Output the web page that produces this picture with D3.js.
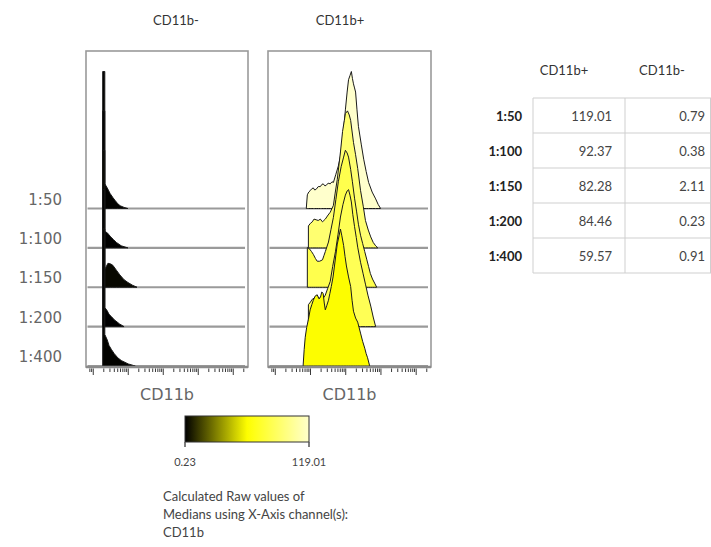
<!DOCTYPE html>
<html>
<head>
<meta charset="utf-8">
<script src="https://cdn.jsdelivr.net/npm/d3@7"></script>
<style>
  body { margin: 0; background: #fff; }
  text { font-family: "Lato", "Open Sans", sans-serif; }
</style>
</head>
<body>
<svg id="chart" width="711" height="547"></svg>
<script>
// Dilution series and the CD11b median of each gated population
const samples = ["1:50", "1:100", "1:150", "1:200", "1:400"];
const panelTitles = ["CD11b-", "CD11b+"];
const mediansNeg = [0.79, 0.38, 2.11, 0.23, 0.91];
const mediansPos = [119.01, 92.37, 82.28, 84.46, 59.57];
const tableHeaders = ["CD11b+", "CD11b-"];
const colorTickValues = [0.23, 119.01];
const axisLabel = "CD11b";
const captionLines = ["Calculated Raw values of", "Medians using X-Axis channel(s):", "CD11b"];

// Histograms: [log10 CD11b intensity, % of mode], one per sample
const histNeg = [
  [[0.27,0],[0.27,100],[0.33,100],[0.33,18],[0.40,15],[0.48,11],[0.56,8],[0.62,6],[0.70,3.5],[0.77,2],[0.88,0.8],[0.99,0]],
  [[0.27,0],[0.27,100],[0.33,100],[0.33,12],[0.40,11],[0.50,8],[0.58,6],[0.66,4],[0.80,1.5],[0.99,0]],
  [[0.27,0],[0.27,100],[0.33,100],[0.33,13],[0.42,17.5],[0.50,17],[0.56,16],[0.66,12.5],[0.76,9],[0.88,5.5],[0.99,3.5],[1.12,1.5],[1.25,0]],
  [[0.27,0],[0.27,100],[0.33,100],[0.33,14],[0.40,11.5],[0.45,9],[0.53,7],[0.60,5],[0.75,2],[0.88,0]],
  [[0.27,0],[0.27,100],[0.33,100],[0.33,23],[0.40,19],[0.45,15],[0.52,12],[0.60,9],[0.70,6],[0.80,4],[1.00,1.5],[1.20,0]]
];
const histPos = [
  [[0.88,0],[0.91,10],[0.95,12],[0.99,13],[1.04,14.5],[1.08,15],[1.12,13.5],[1.16,14],[1.22,16],[1.28,16],[1.32,17.5],[1.36,18],[1.41,16.5],[1.45,17],[1.50,18.5],[1.56,18],[1.61,19.5],[1.65,19],[1.72,25],[1.79,31],[1.85,38],[1.91,48],[1.95,60],[1.99,72],[2.04,85],[2.08,94],[2.12,97],[2.16,100],[2.19,95],[2.22,91],[2.25,88],[2.28,85],[2.32,72],[2.36,60],[2.44,47],[2.51,36],[2.58,27],[2.65,19],[2.75,12],[2.85,7],[2.92,3],[2.99,0]],
  [[0.94,0],[0.94,16],[1.00,18],[1.05,19],[1.10,21],[1.16,20.5],[1.22,20],[1.28,21],[1.34,19],[1.38,20],[1.42,21],[1.50,24],[1.56,26],[1.65,31],[1.70,40],[1.76,50],[1.85,70],[1.91,85],[1.96,93],[1.99,98],[2.05,100],[2.10,97],[2.14,93],[2.22,77],[2.28,68],[2.34,58],[2.42,42],[2.50,30],[2.56,20],[2.64,13],[2.71,8],[2.78,4],[2.85,1.5],[2.91,0]],
  [[0.91,0],[0.91,29],[0.97,28],[1.03,26],[1.08,24],[1.14,21],[1.19,19],[1.26,19],[1.34,20],[1.38,23],[1.42,26],[1.51,33],[1.58,42],[1.65,51],[1.72,64],[1.79,77],[1.87,88],[1.94,95],[1.99,100],[2.04,98],[2.08,95],[2.14,86],[2.19,77],[2.25,65],[2.31,55],[2.36,46],[2.42,38],[2.48,32],[2.54,26],[2.60,20],[2.65,15],[2.70,10],[2.76,6],[2.82,3],[2.88,0]],
  [[0.94,0],[0.94,16],[1.00,18],[1.05,20],[1.12,21],[1.19,22],[1.25,21],[1.31,20],[1.37,21],[1.42,23],[1.49,28],[1.56,33],[1.63,44],[1.71,55],[1.78,67],[1.85,80],[1.92,89],[1.99,96],[2.04,99],[2.08,100],[2.12,96],[2.16,91],[2.20,82],[2.25,73],[2.30,65],[2.34,58],[2.42,47],[2.49,39],[2.56,31],[2.63,23],[2.71,15],[2.78,7],[2.85,0]],
  [[0.79,0],[0.82,12],[0.85,21],[0.89,28],[0.94,34],[0.99,41],[1.04,45],[1.08,48],[1.13,51],[1.19,52],[1.24,49],[1.28,50],[1.32,54],[1.36,53],[1.39,46],[1.42,41],[1.46,44],[1.51,48],[1.55,53],[1.59,58],[1.64,65],[1.68,73],[1.72,81],[1.76,89],[1.81,95],[1.85,100],[1.89,95],[1.94,88],[1.98,80],[2.02,73],[2.08,65],[2.14,58],[2.18,48],[2.22,40],[2.28,35],[2.34,32],[2.38,28],[2.42,24],[2.48,18],[2.54,13],[2.58,9],[2.62,6],[2.68,0]]
];

const svg = d3.select("#chart");

// Median colour scale shared by the histograms and the legend bar
const color = d3.scaleLinear()
  .domain([0.23, 60, 119.01])
  .range(["#000000", "#ffff00", "#ffffcc"])
  .clamp(true);

const rowY = d3.scalePoint().domain(samples).range([208.5, 366]);
const heightScale = d3.scaleLinear().domain([0, 100]).range([0, 137]);
const panelTop = 51, panelBottom = 367;

function drawPanel(x0, width, hists, medians, title, titleX) {
  const g = svg.append("g");
  const x = d3.scaleLog()
    .domain([Math.pow(10, -0.15), Math.pow(10, 4.35)])
    .range([x0 + 2, x0 + width - 2.5]);

  g.append("rect")
    .attr("x", x0).attr("y", panelTop)
    .attr("width", width).attr("height", panelBottom - panelTop)
    .attr("fill", "#fff").attr("stroke", "#9a9a9a").attr("stroke-width", 1.6);

  samples.forEach((s, i) => {
    const base = rowY(s);
    g.append("line")
      .attr("x1", x0 + 1.5).attr("x2", x0 + width - 3)
      .attr("y1", base).attr("y2", base)
      .attr("stroke", "#9a9a9a").attr("stroke-width", 2.2);
    const area = d3.area()
      .x(d => x(Math.pow(10, d[0])))
      .y0(base)
      .y1(d => base - heightScale(d[1]));
    g.append("path")
      .datum(hists[i])
      .attr("d", area)
      .attr("fill", color(medians[i]))
      .attr("stroke", "#1a1a1a")
      .attr("stroke-width", 1)
      .attr("stroke-linejoin", "round");
  });

  // thick bottom edge of the plot frame
  g.append("line")
    .attr("x1", x0).attr("x2", x0 + width)
    .attr("y1", panelBottom).attr("y2", panelBottom)
    .attr("stroke", "#8a8a8a").attr("stroke-width", 2.5);

  // log tick marks: decades long, intermediates short
  const ticks = [];
  for (let k = -1; k <= 4; k++) {
    for (let m = 1; m <= 9; m++) {
      const v = m * Math.pow(10, k);
      if (v >= x.domain()[0] && v <= x.domain()[1]) ticks.push({ v, major: m === 1 });
    }
  }
  g.selectAll(".tick").data(ticks).join("line")
    .attr("x1", d => x(d.v)).attr("x2", d => x(d.v))
    .attr("y1", panelBottom + 1.5)
    .attr("y2", d => panelBottom + (d.major ? 8 : 5))
    .attr("stroke", "#3a3a3a").attr("stroke-width", 1);

  g.append("text")
    .attr("x", x0 + width / 2).attr("y", 400)
    .attr("text-anchor", "middle")
    .style("font-family", "DejaVu Sans")
    .style("font-size", "16px").attr("fill", "#666")
    .text(axisLabel);

  g.append("text")
    .attr("x", titleX).attr("y", 25)
    .attr("text-anchor", "middle")
    .style("font-size", "13px").attr("fill", "#333")
    .text(title);
}

drawPanel(86, 162, histNeg, mediansNeg, panelTitles[0], 176);
drawPanel(268, 163, histPos, mediansPos, panelTitles[1], 340);

// Row labels at the left of the overlays
svg.append("g").selectAll("text").data(samples).join("text")
  .attr("x", 62).attr("y", d => rowY(d) - 4)
  .attr("text-anchor", "end")
  .style("font-family", "DejaVu Sans")
  .style("font-size", "15px").attr("fill", "#666")
  .text(d => d);

// Median table
const table = svg.append("g");
const colRight = [612, 705];
const colCenter = [564, 662];
const rowLines = d3.scaleLinear().domain([0, samples.length]).range([98, 273]);
tableHeaders.forEach((h, j) => {
  table.append("text").attr("x", colCenter[j]).attr("y", 75)
    .attr("text-anchor", "middle").style("font-size", "13px").attr("fill", "#333").text(h);
});
d3.range(samples.length + 1).forEach(i => {
  table.append("line").attr("x1", 533).attr("x2", 711)
    .attr("y1", rowLines(i)).attr("y2", rowLines(i))
    .attr("stroke", "#cfcfcf").attr("stroke-width", 1);
});
[533, 625, 710.5].forEach(xv => {
  table.append("line").attr("x1", xv).attr("x2", xv)
    .attr("y1", rowLines(0)).attr("y2", rowLines(samples.length))
    .attr("stroke", "#cfcfcf").attr("stroke-width", 1);
});
samples.forEach((s, i) => {
  const cy = (rowLines(i) + rowLines(i + 1)) / 2 + 5;
  table.append("text").attr("x", 522).attr("y", cy).attr("text-anchor", "end")
    .style("font-size", "13px").style("font-weight", "bold").attr("fill", "#222").text(s);
  table.append("text").attr("x", colRight[0]).attr("y", cy).attr("text-anchor", "end")
    .style("font-size", "13px").attr("fill", "#444").text(mediansPos[i].toFixed(2));
  table.append("text").attr("x", colRight[1]).attr("y", cy).attr("text-anchor", "end")
    .style("font-size", "13px").attr("fill", "#444").text(mediansNeg[i].toFixed(2));
});

// Colour legend
const legX = d3.scaleLinear().domain(colorTickValues).range([185, 309]);
const defs = svg.append("defs");
const grad = defs.append("linearGradient").attr("id", "medGrad");
d3.range(0, 1.0001, 0.05).forEach(t => {
  const v = colorTickValues[0] + t * (colorTickValues[1] - colorTickValues[0]);
  grad.append("stop").attr("offset", t).attr("stop-color", color(v));
});
svg.append("rect").attr("x", legX(0.23)).attr("y", 416)
  .attr("width", legX(119.01) - legX(0.23)).attr("height", 26)
  .attr("fill", "url(#medGrad)").attr("stroke", "#333").attr("stroke-width", 1);
colorTickValues.forEach(v => {
  svg.append("line").attr("x1", legX(v)).attr("x2", legX(v))
    .attr("y1", 442).attr("y2", 447).attr("stroke", "#555").attr("stroke-width", 1.5);
  svg.append("text").attr("x", legX(v)).attr("y", 466).attr("text-anchor", "middle")
    .style("font-size", "11px").attr("fill", "#444").text(v.toFixed(2));
});
svg.append("g").selectAll("text").data(captionLines).join("text")
  .attr("x", 163).attr("y", (d, i) => 501 + i * 18)
  .style("font-size", "13px").attr("fill", "#444")
  .text(d => d);
</script>
</body>
</html>
